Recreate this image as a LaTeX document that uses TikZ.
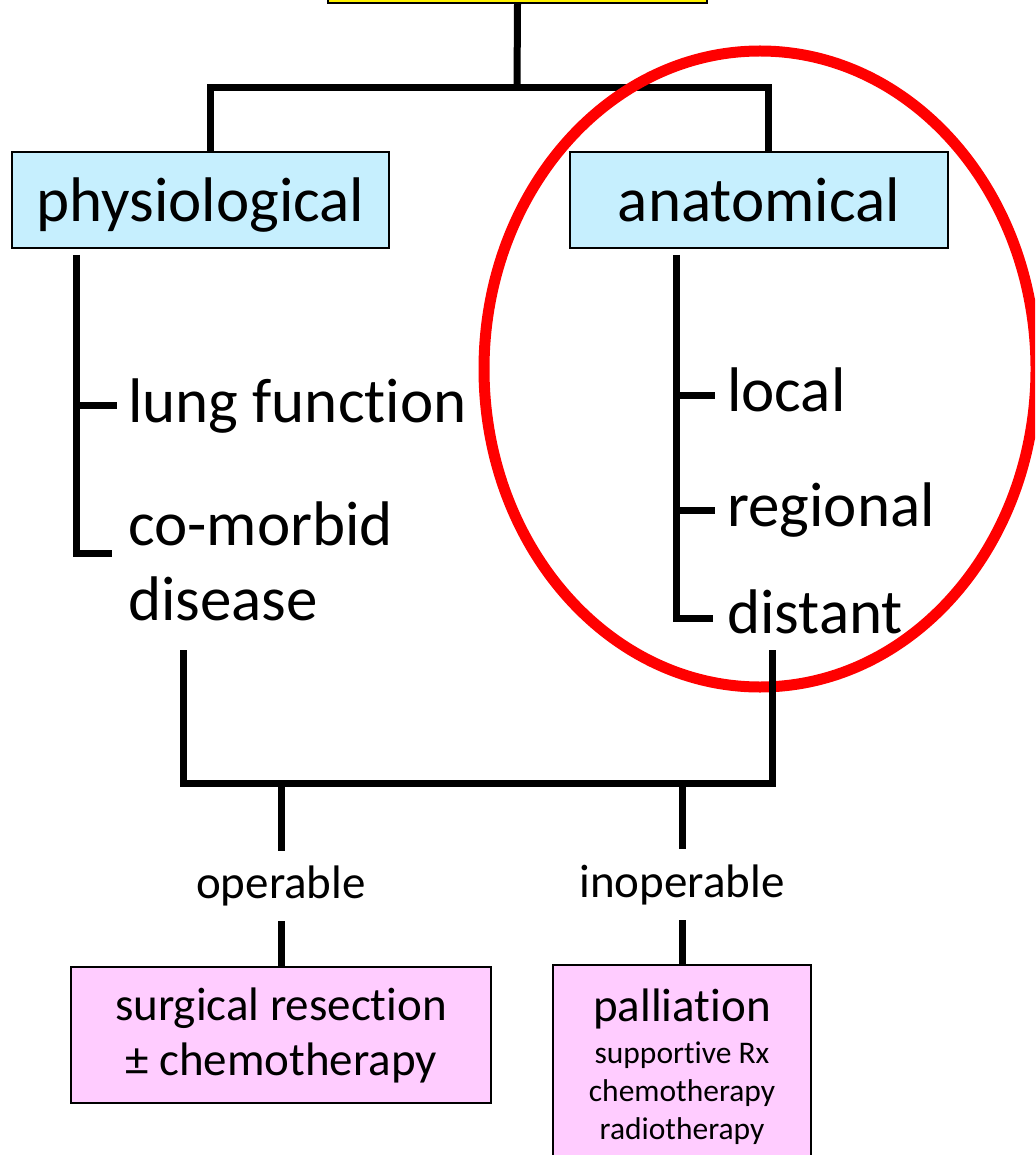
\documentclass[tikz,border=0pt]{standalone}
\usepackage{fontspec}
\setmainfont{Carlito}[Ligatures=NoCommon]
\definecolor{stageblue}{RGB}{198,239,254}
\definecolor{treatpink}{RGB}{255,204,255}
\begin{document}
\begin{tikzpicture}[x=1pt,y=-1pt,
    conn/.style={line width=7pt},
    box/.style={draw=black,line width=1.5pt,inner sep=0pt,align=center},
    big/.style={font=\fontsize{63}{75}\selectfont},
    mid/.style={font=\fontsize{47}{55}\selectfont},
    item/.style={big,anchor=base west,inner sep=0pt},
    lbl/.style={mid,fill=white,inner xsep=2pt,inner ysep=15pt}]
  \path[use as bounding box,clip] (0,0) rectangle (1035,1155);
  %\draw[help lines,step=50] (0,0) grid (1035,1155);

  \node[box,fill=yellow,minimum width=379,minimum height=70] (stage) at (517.5,-32) {};
  \node[box,fill=stageblue,big,text height=44pt,text depth=0pt,
        minimum width=377,minimum height=96] (phys) at (200.5,200) {physiological};
  \node[box,fill=stageblue,big,text height=44pt,text depth=0pt,
        minimum width=378,minimum height=96] (anat) at (759,200) {anatomical};

  \node[item] (lung) at (128,422) {lung function};
  \node[item] (comorbid) at (128,545) {co-morbid};
  \node[item] (disease) at (128,620) {disease};
  \foreach \name/\txt/\y in {loc/local/411, reg/regional/526, dist/distant/633}
    \node[item] (\name) at (727,\y) {\txt};

  \node[box,fill=treatpink,mid,minimum width=420,minimum height=136] (surg) at (281,1035)
    {surgical resection\\± chemotherapy};
  \node[box,fill=treatpink,font=\fontsize{31.5}{38}\selectfont,
        minimum width=258,minimum height=204] (pall) at (682,1067)
    {{\fontsize{47}{42}\selectfont palliation}\\[4pt]supportive Rx\\chemotherapy\\radiotherapy};

  % top tree
  \coordinate (hub) at (517,88);
  \draw[conn] (stage.south) -- (hub);
  \draw[conn] ([xshift=10pt]phys.north) |- (hub) -| ([xshift=9pt]anat.north);

  % brackets
  \coordinate (lb) at (76,255);
  \coordinate (lbend) at (112,553);
  \coordinate (lt) at (117,405);
  \draw[conn] (lb) |- (lbend);
  \draw[conn] (lb |- lt) -- (lt);
  \coordinate (rb) at (676,255);
  \coordinate (rbend) at (713,618);
  \draw[conn] (rb) |- (rbend);
  \foreach \y in {395,510}
    \draw[conn] (rb |- 0,\y) -- ++(39,0);

  \draw[red,line width=11pt] (760,369) ellipse [x radius=276,y radius=318];

  % join and treatment
  \coordinate (jl) at (183,650);
  \coordinate (jr) at (772,650);
  \coordinate (bbar) at (0,783);
  \draw[conn] (jl) |- (jr |- bbar) -- (jr);
  \draw[conn] (surg.north |- bbar) -- node[lbl,pos=0.56] (op) {operable} (surg.north);
  \draw[conn] (pall.north |- bbar) -- node[lbl,pos=0.56] (inop) {inoperable} (pall.north);
\end{tikzpicture}
\end{document}
